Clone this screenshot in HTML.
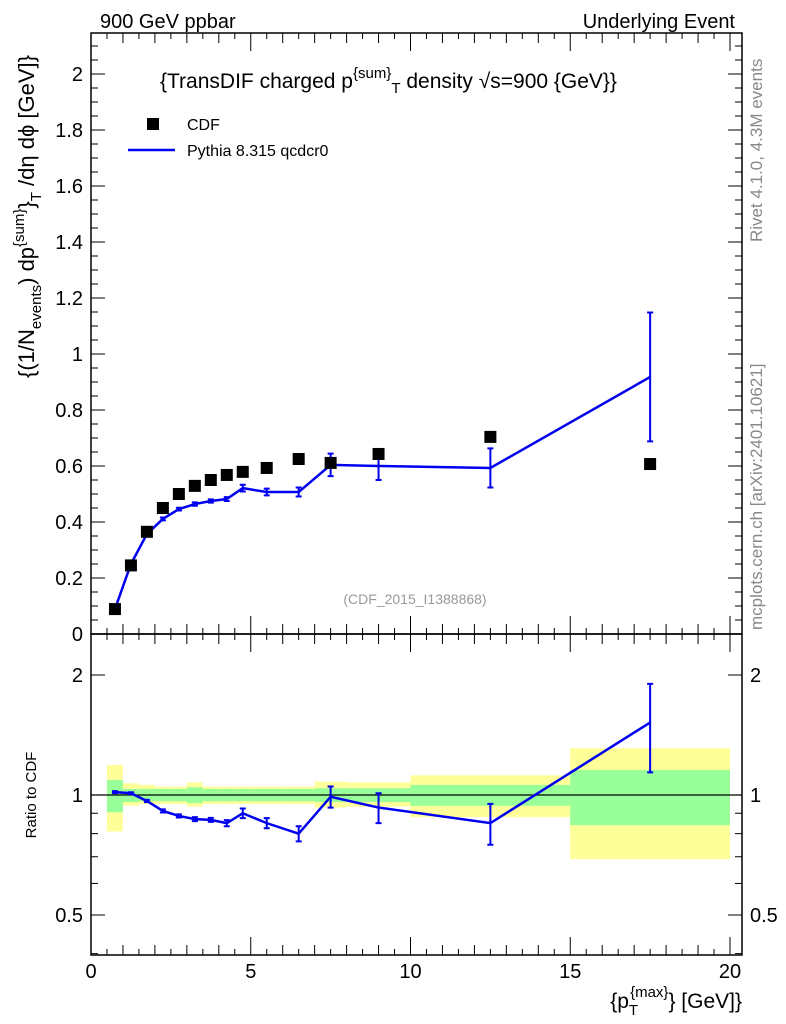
<!DOCTYPE html>
<html><head><meta charset="utf-8"><style>
body{margin:0;background:#fff;}
svg{display:block;font-family:"Liberation Sans",Arial,sans-serif;}
</style></head><body>
<svg id="c" width="786" height="1024" viewBox="0 0 786 1024" xmlns="http://www.w3.org/2000/svg">
<rect width="786" height="1024" fill="#fff"/>
<text x="100" y="28" font-size="20">900 GeV ppbar</text>
<text x="735" y="28" font-size="20" text-anchor="end">Underlying Event</text>
<text x="160" y="88" font-size="21">{TransDIF charged p<tspan dy="-10" font-size="15">{sum}</tspan><tspan dy="15" font-size="15">T</tspan><tspan dy="-5"> density √s=900 {GeV}}</tspan></text>
<text transform="translate(762,242) rotate(-90)" font-size="17" fill="#888">Rivet 4.1.0,  4.3M events</text>
<text transform="translate(762,630) rotate(-90)" font-size="17" fill="#888">mcplots.cern.ch [arXiv:2401.10621]</text>
<text x="415" y="604" font-size="14" fill="#999" text-anchor="middle">(CDF_2015_I1388868)</text>
<text transform="translate(34,378) rotate(-90)" font-size="22">{(1/N<tspan dy="7" font-size="15">events</tspan><tspan dy="-7">) dp</tspan><tspan dy="-10" font-size="15">{sum}</tspan><tspan dy="10">}</tspan><tspan dy="7" font-size="15">T</tspan><tspan dy="-7"> /dη  dϕ [GeV]}</tspan></text>
<text transform="translate(36,795) rotate(-90)" font-size="15" text-anchor="middle">Ratio to CDF</text>
<text x="742" y="1008" font-size="21" text-anchor="end">{p<tspan dy="7" font-size="15">T</tspan><tspan dy="-18" dx="-8" font-size="15">{max}</tspan><tspan dy="11">} [GeV]}</tspan></text>
<g>
<rect x="147" y="118" width="12" height="12" fill="#000"/>
<text x="187" y="130" font-size="16">CDF</text>
<line x1="128" y1="150" x2="175" y2="150" stroke="#0000ee" stroke-width="2.5"/>
<text x="187" y="156" font-size="16">Pythia 8.315 qcdcr0</text>
</g>
<g id="g"></g>
</svg>
<script>
const xs=[0.75,1.25,1.75,2.25,2.75,3.25,3.75,4.25,4.75,5.5,6.5,7.5,9,12.5,17.5];
const cdf=[0.089,0.245,0.365,0.450,0.500,0.529,0.550,0.568,0.579,0.593,0.625,0.611,0.643,0.704,0.607];
const pythia=[0.089,0.25,0.357,0.411,0.446,0.464,0.475,0.482,0.521,0.507,0.507,0.604,0.600,0.593,0.918];
const pyErr=[0.004,0.005,0.005,0.005,0.005,0.006,0.006,0.007,0.012,0.012,0.016,0.04,0.05,0.07,0.23];
const ratio=[1.017,1.01,0.966,0.912,0.886,0.87,0.866,0.85,0.90,0.85,0.80,0.99,0.93,0.85,1.52];
const ratioErr=[0.006,0.006,0.006,0.008,0.008,0.01,0.01,0.015,0.025,0.025,0.035,0.06,0.08,0.1,0.38];
const binLo=[0.5,1,1.5,2,2.5,3,3.5,4,4.5,5,6,7,8,10,15];
const binHi=[1,1.5,2,2.5,3,3.5,4,4.5,5,6,7,8,10,15,20];
const yelLo=[0.81,0.94,0.95,0.95,0.95,0.935,0.95,0.95,0.95,0.95,0.95,0.93,0.935,0.88,0.69];
const yelHi=[1.19,1.07,1.06,1.05,1.05,1.075,1.05,1.05,1.05,1.05,1.05,1.08,1.075,1.12,1.31];
const grnLo=[0.905,0.96,0.965,0.965,0.965,0.955,0.965,0.965,0.965,0.965,0.965,0.96,0.96,0.94,0.84];
const grnHi=[1.09,1.035,1.035,1.035,1.035,1.045,1.035,1.035,1.035,1.035,1.035,1.04,1.04,1.06,1.155];
const mainTicks=["0","0.2","0.4","0.6","0.8","1","1.2","1.4","1.6","1.8","2"];
const ratioTicks=[0.5,1,2];
const xTicks=[0,5,10,15,20];

const L=91,R=742,T=33,M=634,B=955;
const X=v=>L+v*31.95;
const Y=v=>M-v*280;
const YR=v=>795-Math.log2(v)*120;
const g=document.getElementById('g');
const NS='http://www.w3.org/2000/svg';
function mk(t,a){const e=document.createElementNS(NS,t);for(const k in a)e.setAttribute(k,a[k]);g.appendChild(e);return e;}

for(let i=0;i<binLo.length;i++){
 let e=mk('rect',{x:X(binLo[i]),y:YR(yelHi[i]),width:X(binHi[i])-X(binLo[i]),height:YR(yelLo[i])-YR(yelHi[i]),fill:'#ffff99'});
 
 
 e=mk('rect',{x:X(binLo[i]),y:YR(grnHi[i]),width:X(binHi[i])-X(binLo[i]),height:YR(grnLo[i])-YR(grnHi[i]),fill:'#99ff99'});
 
 
}
let ln=mk('line',{x1:L,x2:R,y1:YR(1),y2:YR(1),stroke:'#000','stroke-width':1.3});



let f=mk('rect',{x:L,y:T,width:R-L,height:M-T,fill:'none',stroke:'#000','stroke-width':1.5});


f=mk('rect',{x:L,y:M,width:R-L,height:B-M,fill:'none',stroke:'#000','stroke-width':1.5});



for(let v=0;v<=2.14;v+=0.05){
 const maj=Math.abs(v*5-Math.round(v*5))<1e-6;
 const len=maj?14:7;
 mk('line',{x1:L,x2:L+len,y1:Y(v),y2:Y(v),stroke:'#000'});
 mk('line',{x1:R,x2:R-len,y1:Y(v),y2:Y(v),stroke:'#000'});
}
mainTicks.forEach(t=>{
 const e=mk('text',{x:L-8,y:Y(+t)+7,'font-size':20,'text-anchor':'end'});
 e.textContent=t;
 
 
});
[0.4,0.5,0.6,0.7,0.8,0.9,1,2].forEach(v=>{
 const maj=ratioTicks.includes(v);const len=maj?14:7;
 mk('line',{x1:L,x2:L+len,y1:YR(v),y2:YR(v),stroke:'#000'});
 mk('line',{x1:R,x2:R-len,y1:YR(v),y2:YR(v),stroke:'#000'});
});
ratioTicks.forEach(v=>{
 let e=mk('text',{x:L-8,y:YR(v)+7,'font-size':20,'text-anchor':'end'});
 e.textContent=String(v);
 
 
 e=mk('text',{x:R+8,y:YR(v)+7,'font-size':20});
 e.textContent=String(v);
 
 
});
for(let v=0;v<=20;v+=0.5){
 const maj=v%5===0;const len=maj?18:(v%1===0?10:6);
 [M,B].forEach(yb=>{mk('line',{x1:X(v),x2:X(v),y1:yb,y2:yb-len,stroke:'#000'});});
 [T,M].forEach(yt=>{mk('line',{x1:X(v),x2:X(v),y1:yt,y2:yt+len,stroke:'#000'});});
}
xTicks.forEach(v=>{
 const e=mk('text',{x:X(v),y:978,'font-size':20,'text-anchor':'middle'});
 e.textContent=String(v);
 
 
});

let p=mk('polyline',{points:xs.map((x,i)=>X(x)+','+Y(pythia[i])).join(' '),fill:'none',stroke:'#0000ee','stroke-width':2.5});


xs.forEach((x,i)=>{
 const a=Y(pythia[i]+pyErr[i]),b=Y(pythia[i]-pyErr[i]);
 const e=mk('path',{d:`M${X(x)},${a}V${b}M${X(x)-3},${a}h6M${X(x)-3},${b}h6`,stroke:'#0000ee','stroke-width':2,fill:'none'});
 
 
});
xs.forEach((x,i)=>{
 const e=mk('rect',{x:X(x)-6,y:Y(cdf[i])-6,width:12,height:12,fill:'#000'});
 
 
});
p=mk('polyline',{points:xs.map((x,i)=>X(x)+','+YR(ratio[i])).join(' '),fill:'none',stroke:'#0000ee','stroke-width':2.5});


xs.forEach((x,i)=>{
 const a=YR(ratio[i]+ratioErr[i]),b=YR(Math.max(0.05,ratio[i]-ratioErr[i]));
 const e=mk('path',{d:`M${X(x)},${a}V${b}M${X(x)-3},${a}h6M${X(x)-3},${b}h6`,stroke:'#0000ee','stroke-width':2,fill:'none'});
 
 
});
</script>
</body></html>
